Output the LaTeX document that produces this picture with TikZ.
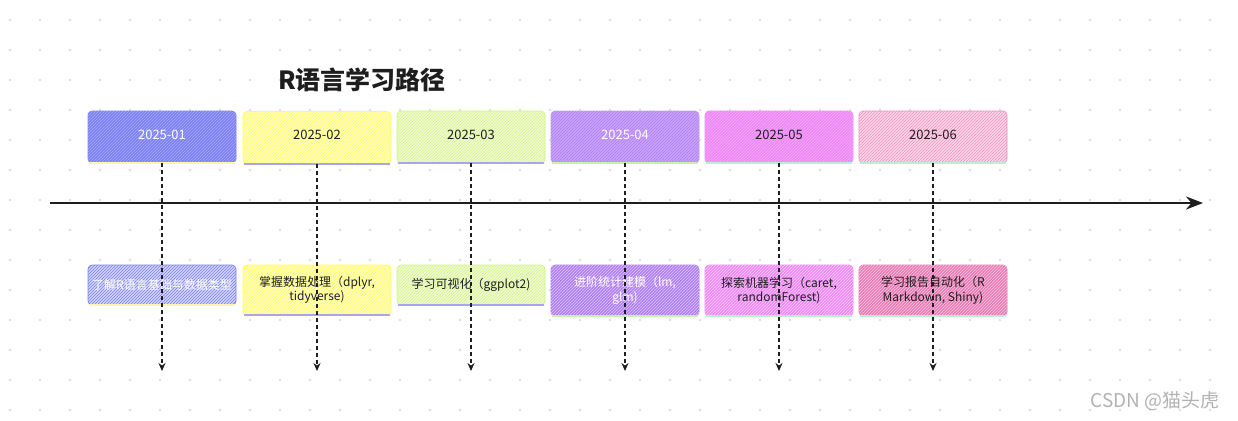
\documentclass[tikz,border=0pt]{standalone}
\usepackage{fontspec}
\setmainfont{Noto Sans CJK SC}
\usetikzlibrary{patterns,arrows.meta}
\definecolor{dotc}{HTML}{DDDDDD}
\definecolor{ink}{HTML}{1E1E1E}
\definecolor{cA}{HTML}{7C80F2}
\definecolor{cB}{HTML}{FFFF55}
\definecolor{cC}{HTML}{D2F584}
\definecolor{cD}{HTML}{B07CF5}
\definecolor{cE}{HTML}{EE88F5}
\definecolor{cF}{HTML}{F090BE}
\definecolor{cF2}{HTML}{E87AB5}
\definecolor{uY}{HTML}{FFF5B0}
\definecolor{uL}{HTML}{A8A4F0}
\definecolor{uG}{HTML}{C8F0A8}
\definecolor{uM}{HTML}{B8F0D0}
\tikzset{
  box/.style={rounded corners=4pt, inner sep=2pt, minimum width=148pt, align=center, font=\fontsize{12}{14.5}\selectfont},
  solidbox/.style 2 args={box, fill=#1, draw=#1, line width=0.6pt, postaction={pattern=north east lines, pattern color=#2}},
  hatchbox/.style={box, fill=#1!35, draw=#1, line width=0.6pt, postaction={pattern=north east lines, pattern color=#1}},
  topbox/.style={minimum height=52pt, font=\fontsize{13}{15}\selectfont},
  ul/.style={line width=2pt, line cap=round},
  drop/.style={ink, line width=1.7pt, dash pattern=on 4pt off 3pt, -{Stealth[length=8pt,width=7pt]}},
  axis/.style={ink, line width=2.6pt, -{Stealth[length=17pt,width=13pt]}},
}
\begin{document}
\begin{tikzpicture}[x=1pt,y=-1pt]
\useasboundingbox (0,0) rectangle (1238,420);
\fill[white] (0,0) rectangle (1238,420);
\foreach \x in {10,40,...,1230} \foreach \y in {20,50,...,410} \fill[dotc] (\x,\y) circle (1.3);

\node[font=\fontsize{25}{28}\selectfont\bfseries, text=ink] (title) at (362,80) {R语言学习路径};

% top boxes
\node[solidbox={cA}{white!35!cA}, topbox, text=white] (t1) at (162,137) {\raisebox{5pt}{2025-01}};
\node[hatchbox=cB, topbox, text=ink] (t2) at (317,137.5) {\raisebox{5pt}{2025-02}};
\node[hatchbox=cC, topbox, text=ink] (t3) at (471,137) {\raisebox{5pt}{2025-03}};
\node[solidbox={cD!70}{cD}, topbox, text=white] (t4) at (625,137) {\raisebox{5pt}{2025-04}};
\node[solidbox={cE}{cE!70!white}, topbox, text=ink] (t5) at (779,137) {\raisebox{5pt}{2025-05}};
\node[hatchbox=cF, topbox, text=ink] (t6) at (933,137) {\raisebox{5pt}{2025-06}};

\draw[ul, uY] ([xshift=2pt]t1.south west) -- ([xshift=-2pt]t1.south east);
\draw[ul, uL] ([xshift=2pt]t2.south west) -- ([xshift=-2pt]t2.south east);
\draw[ul, uL] ([xshift=2pt]t3.south west) -- ([xshift=-2pt]t3.south east);
\draw[ul, uG] ([xshift=2pt]t4.south west) -- ([xshift=-2pt]t4.south east);
\draw[ul, uM] ([xshift=2pt]t5.south west) -- ([xshift=-2pt]t5.south east);
\draw[ul, uM] ([xshift=2pt]t6.south west) -- ([xshift=-2pt]t6.south east);

% bottom boxes
\node[hatchbox=cA, minimum height=40pt, text=white] (b1) at (162,285) {了解R语言基础与数据类型};
\node[hatchbox=cB, minimum height=50pt, text=ink] (b2) at (317,290) {掌握数据处理（dplyr,\\tidyverse)};
\node[hatchbox=cC, minimum height=40pt, text=ink] (b3) at (471,285) {学习可视化（ggplot2)};
\node[solidbox={cD}{white!60!cD}, minimum height=51pt, text=white] (b4) at (625,290.5) {进阶统计建模（lm,\\glm)};
\node[solidbox={cE}{white!60!cE}, minimum height=51pt, text=ink] (b5) at (779,290.5) {探索机器学习（caret,\\randomForest)};
\node[solidbox={cF2}{white!60!cF2}, minimum height=51pt, text=ink] (b6) at (933,290.5) {学习报告自动化（R\\Markdown, Shiny)};

\draw[ul, uY] ([xshift=2pt]b1.south west) -- ([xshift=-2pt]b1.south east);
\draw[ul, uL] ([xshift=2pt]b2.south west) -- ([xshift=-2pt]b2.south east);
\draw[ul, uL] ([xshift=2pt]b3.south west) -- ([xshift=-2pt]b3.south east);
\draw[ul, uG] ([xshift=2pt]b4.south west) -- ([xshift=-2pt]b4.south east);
\draw[ul, uM] ([xshift=2pt]b5.south west) -- ([xshift=-2pt]b5.south east);
\draw[ul, uM] ([xshift=2pt]b6.south west) -- ([xshift=-2pt]b6.south east);

% axis
\coordinate (ax0) at (50,203);
\coordinate (ax1) at (1203,203);
\draw[axis] (ax0) -- (ax1);

% drops
\coordinate (e1) at (162,371);
\coordinate (e2) at (317,371);
\coordinate (e3) at (471,371);
\coordinate (e4) at (625,371);
\coordinate (e5) at (779,371);
\coordinate (e6) at (933,371);
\draw[drop] (t1.south) -- (e1);
\draw[drop] (t2.south) -- (e2);
\draw[drop] (t3.south) -- (e3);
\draw[drop] (t4.south) -- (e4);
\draw[drop] (t5.south) -- (e5);
\draw[drop] (t6.south) -- (e6);

\node[font=\fontsize{19}{22}\selectfont, text=black!30] (wm) at (1155,401) {CSDN @猫头虎};
\end{tikzpicture}
\end{document}
